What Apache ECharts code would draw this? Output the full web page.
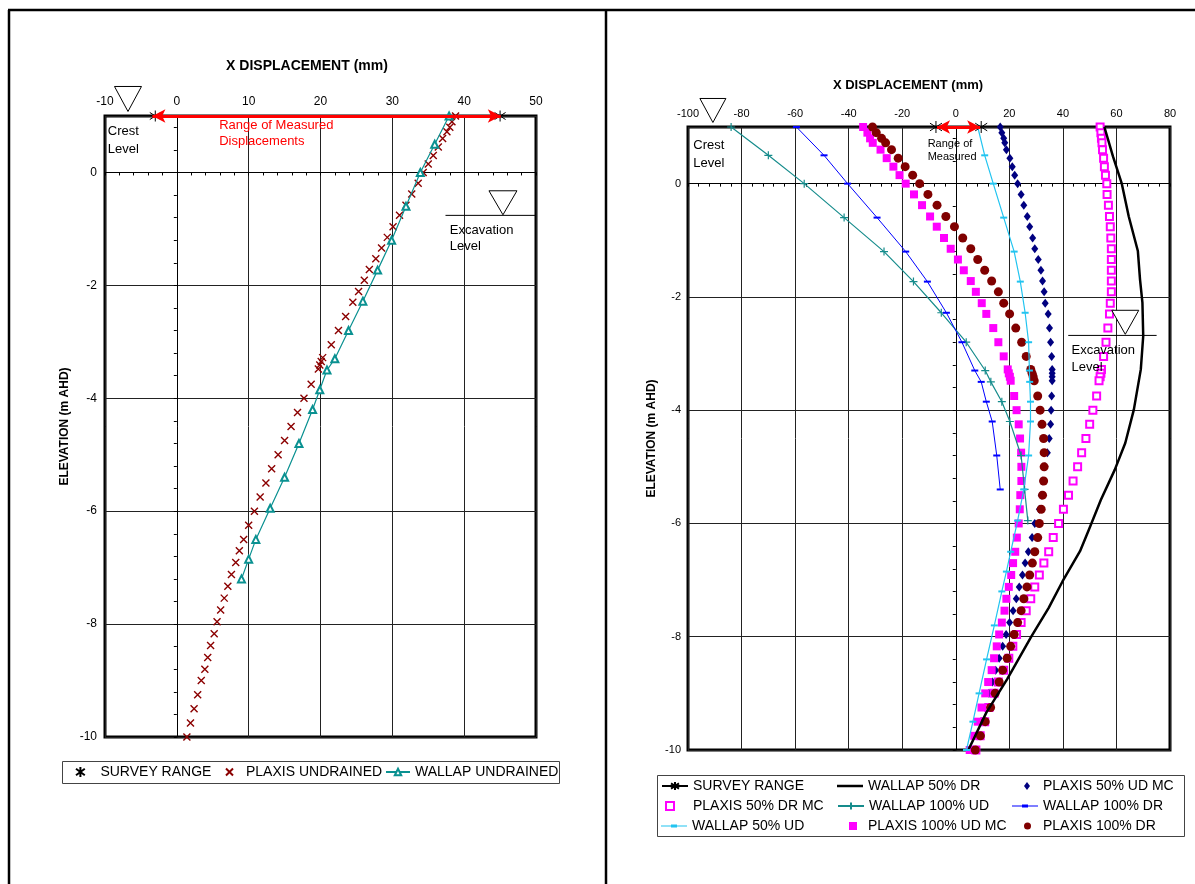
<!DOCTYPE html>
<html lang="en">
<head>
<meta charset="UTF-8">
<title>X displacement profiles</title>
<script src="https://cdn.jsdelivr.net/npm/echarts@6/dist/echarts.min.js"></script>
<style>html,body{margin:0;padding:0;background:#fff;}</style>
</head>
<body>
<div id="main" style="width:1195px;height:884px;"></div>
<script type="text/javascript">
    // elevations (m AHD) of the PLAXIS output nodes, shared by all PLAXIS series
    var plaxisElev = [1.0, 0.9, 0.8, 0.72, 0.6, 0.45, 0.3, 0.15, 0, -0.19, -0.38, -0.58, -0.76, -0.96,
        -1.15, -1.34, -1.53, -1.72, -1.91, -2.11, -2.3, -2.55, -2.8, -3.05, -3.28, -3.35, -3.41, -3.48,
        -3.75, -4.0, -4.25, -4.5, -4.75, -5.0, -5.25, -5.5, -5.75, -6.0, -6.25, -6.5, -6.7, -6.91,
        -7.12, -7.33, -7.54, -7.75, -7.96, -8.17, -8.38, -8.59, -8.8, -9.0, -9.25, -9.5, -9.75, -10.0];
    // elevations of the WALLAP nodes
    var wallapElev = [1.0, 0.5, 0, -0.6, -1.2, -1.73, -2.28, -2.8, -3.3, -3.5, -3.85, -4.2, -4.8,
        -5.4, -5.95, -6.5, -6.85, -7.2, -7.8, -8.4, -9.0, -9.5, -10.0];
    var surveyElev = 1.0;

    // left chart (undrained)
    var surveyLeft = [-3, 45];
    var plaxisUndrained = [38.8, 38.3, 38.0, 37.6, 37.0, 36.4, 35.7, 35.0, 34.3, 33.6,
        32.7, 31.9, 31.0, 30.1, 29.3, 28.5, 27.7, 26.8, 26.1, 25.3,
        24.5, 23.5, 22.5, 21.5, 20.3, 20.1, 19.9, 19.7, 18.7, 17.7,
        16.8, 15.9, 15.0, 14.1, 13.2, 12.4, 11.6, 10.8, 10.0, 9.3,
        8.7, 8.2, 7.6, 7.1, 6.6, 6.1, 5.6, 5.2, 4.7, 4.3,
        3.9, 3.4, 2.9, 2.4, 1.9, 1.4];
    var wallapUndrained = [37.9, 35.9, 33.9, 31.9, 29.9, 27.95, 25.9, 23.9, 22.0, 20.9, 19.9, 18.9,
        17.0, 15.0, 13.0, 11.0, 10.0, 9.0];

    // right chart
    var surveyRight = [-7.4, 9.5];
    var dr50Elev = [1.0, 0.48, 0.0, -0.58, -1.19, -1.69, -2.1, -2.69, -3.28, -3.99, -4.58, -5.05,
        -5.58, -6.11, -6.49, -7.02, -7.49, -7.99, -8.75, -9.34, -10.0];
    var wallap50DR = [55.5, 58.7, 62.0, 64.6, 68.0, 68.8, 69.7, 70.0, 69.1, 66.5, 63.3, 59.4,
        54.2, 49.7, 46.4, 39.9, 34.7, 28.3, 19.2, 11.4, 4.7];
    var plaxis50UDMC = [16.6, 17.2, 17.9, 18.3, 18.9, 20.2, 21.1, 22.0,
        23.1, 24.4, 25.4, 26.7, 27.6, 28.7, 29.5, 30.8, 31.8,
        32.4, 33.0, 33.4, 34.5, 35.0, 35.4, 35.8,
        36.0, 36.0, 36.0, 36.0,
        35.8, 35.6, 35.4, 34.9, 34.2, 33.3, 32.5, 31.9, 31.2, 29.5,
        28.5, 27.1, 25.9, 24.9, 23.7, 22.6, 21.4, 20.1, 18.8, 17.5, 16.2, 14.9, 13.7, 12.4, 11.0, 9.6, 8.2, 6.7];
    var plaxis50DRMC = [53.9, 54.2, 54.4, 54.6, 54.8, 55.2, 55.5, 55.9,
        56.4, 56.5, 57.0, 57.4, 57.7, 57.9, 58.1, 58.1, 58.1,
        58.1, 58.1, 57.7, 57.4, 56.8, 56.1, 55.2,
        54.4, 54.2, 53.9, 53.5,
        52.6, 51.2, 50.0, 48.6, 47.0, 45.5, 43.8, 42.1, 40.2, 38.4,
        36.4, 34.7, 32.9, 31.2, 29.5, 28.0, 26.3, 24.4, 22.7, 21.3, 19.8, 17.9, 15.9, 14.3, 12.4, 10.8, 9.1, 7.5];
    var wallap100UD = [-83.9, -70.0, -56.6, -41.7, -26.8, -15.8, -5.4, 3.9, 11.0, 13.1, 17.2, 20.2,
        24.4, 25.7, 26.9];
    var wallap100DR = [-59.5, -49.2, -40.4, -29.4, -18.7, -10.6, -3.5, 2.3, 7.1, 9.5, 11.4, 13.6,
        15.3, 16.6];
    var wallap50UD = [8.2, 10.8, 14.0, 17.9, 21.8, 24.1, 25.9, 27.2, 27.5, 27.6, 27.9, 27.9, 27.2,
        25.4, 23.1, 20.5, 18.9, 17.2, 14.4, 11.5, 8.7, 6.4, 4.0];
    var plaxis100UDMC = [-34.6, -33.0, -32.0, -31.0, -28.1, -25.8, -23.3, -21.0,
        -18.7, -15.6, -12.6, -9.6, -7.1, -4.4, -1.9, 0.8, 3.0,
        5.6, 7.5, 9.7, 11.4, 14.0, 15.9, 17.9,
        19.4, 19.8, 20.2, 20.5,
        21.8, 22.7, 23.5, 24.0, 24.4, 24.5, 24.5, 24.1, 23.9, 23.5,
        22.8, 22.2, 21.4, 20.7, 19.8, 18.9, 18.2, 17.2, 16.2, 15.3, 14.3, 13.4, 12.1, 11.0, 9.6, 8.2, 6.9, 5.2];
    var plaxis100DR = [-31.1, -29.7, -27.7, -26.2, -24.0, -21.5, -18.9, -16.1,
        -13.5, -10.4, -7.0, -3.7, -0.5, 2.6, 5.6, 8.2, 10.8,
        13.4, 15.9, 17.9, 20.1, 22.4, 24.6, 26.3,
        28.0, 28.5, 28.9, 29.3,
        30.6, 31.5, 32.2, 32.8, 33.0, 33.0, 32.8, 32.4, 31.9, 31.2,
        30.6, 29.5, 28.6, 27.6, 26.6, 25.4, 24.4, 23.1, 21.8, 20.5, 19.2, 17.5, 16.2, 14.7, 13.0, 11.0, 9.2, 7.3];

    // axis ranges
    var leftX = [-10, 50], rightX = [-100, 80], elevRange = [-10, 1];

    function pairs(xs, ys) {
        return xs.map(function (v, i) { return [v, ys[i]]; });
    }

    var FONT = 'Liberation Sans, Arial, sans-serif';
    var STAR = 'path://M5,0L5,10M0.6,1.8L9.4,8.2M9.4,1.8L0.6,8.2';
    var CROSS = 'path://M0,0L10,10M10,0L0,10';
    var PLUS = 'path://M5,0L5,10M0,5L10,5';
    var DASH_ICON = 'path://M0,1L26,1L26,2L0,2ZM10,0L16,0L16,3L10,3Z';

    function axisPair(grid, range, interval, minor, size, dim) {
        var main = {
            type: 'value', gridIndex: grid, min: range[0], max: range[1], interval: interval,
            axisLine: { show: false, onZero: false },
            axisTick: { show: false },
            axisLabel: { color: '#000', fontSize: size, fontFamily: FONT, margin: 8, showMaxLabel: dim === 'x' },
            splitLine: { show: true, lineStyle: { color: '#222', width: 1 } }
        };
        var cross = {
            type: 'value', gridIndex: grid, min: range[0], max: range[1], interval: minor,
            axisLine: { show: true, onZero: true, lineStyle: { color: '#000', width: 1 } },
            axisTick: { show: true, length: 3, inside: dim === 'y', lineStyle: { color: '#000' } },
            axisLabel: { show: false },
            splitLine: { show: false }
        };
        if (dim === 'x') main.position = 'top';
        return [main, cross];
    }

    var lx = axisPair(0, leftX, 10, 2, 12, 'x');
    var ly = axisPair(0, elevRange, 2, 0.4, 12, 'y');
    var rx = axisPair(1, rightX, 20, 4, 11, 'x');
    var ry = axisPair(1, elevRange, 2, 0.4, 11, 'y');
    ly[0].name = 'ELEVATION (m AHD)';
    ry[0].name = 'ELEVATION (m AHD)';
    ry[0].axisLabel.margin = 7;
    [ly[0], ry[0]].forEach(function (a, i) {
        a.nameLocation = 'middle';
        a.nameGap = i === 0 ? 34 : 30;
        a.nameTextStyle = { color: '#000', fontSize: 12, fontWeight: 'bold', fontFamily: FONT };
    });

    function arrow(from, to) {
        return {
            silent: true, symbol: ['arrow', 'arrow'], symbolSize: [10, 13],
            label: { show: false },
            lineStyle: { color: '#FF0000', width: 3, type: 'solid' },
            emphasis: { disabled: true },
            data: [[{ coord: [from, surveyElev] }, { coord: [to, surveyElev] }]]
        };
    }

    var surveyLeftPts = surveyLeft.map(function (v) { return [v, surveyElev]; });
    var surveyRightPts = surveyRight.map(function (v) { return [v, surveyElev]; });

    var series = [
        { name: 'SURVEY RANGE', type: 'scatter', xAxisIndex: 0, yAxisIndex: 0, clip: false,
          symbol: STAR, symbolSize: 11, z: 4,
          itemStyle: { color: '#000', borderColor: '#000', borderWidth: 1, opacity: 1 },
          data: surveyLeftPts, markLine: arrow(-3.4, 45.1) },
        { name: 'PLAXIS UNDRAINED', type: 'scatter', xAxisIndex: 0, yAxisIndex: 0,
          symbol: CROSS, symbolSize: 7,
          itemStyle: { color: '#8B0000', borderColor: '#8B0000', borderWidth: 1.4, opacity: 1 },
          data: pairs(plaxisUndrained, plaxisElev) },
        { name: 'WALLAP UNDRAINED', type: 'line', xAxisIndex: 0, yAxisIndex: 0,
          symbol: 'emptyTriangle', symbolSize: 7, showAllSymbol: true,
          lineStyle: { color: '#0A9191', width: 1.2 },
          itemStyle: { color: '#0A9191', borderWidth: 1.2 },
          data: pairs(wallapUndrained, wallapElev) },

        { name: 'SURVEY RANGE ', type: 'line', xAxisIndex: 2, yAxisIndex: 2, clip: false,
          symbol: STAR, symbolSize: 12, z: 4,
          lineStyle: { color: '#000', width: 1.5 },
          itemStyle: { color: '#000', borderColor: '#000', borderWidth: 1 },
          data: surveyRightPts, markLine: arrow(-7, 9.1) },
        { name: 'WALLAP 50% DR', type: 'line', xAxisIndex: 2, yAxisIndex: 2,
          symbol: 'none', lineStyle: { color: '#000', width: 2.5 },
          itemStyle: { color: '#000' },
          data: pairs(wallap50DR, dr50Elev) },
        { name: 'PLAXIS 50% UD MC', type: 'scatter', xAxisIndex: 2, yAxisIndex: 2,
          symbol: 'diamond', symbolSize: [7, 9],
          itemStyle: { color: '#000080', opacity: 1 },
          data: pairs(plaxis50UDMC, plaxisElev) },
        { name: 'PLAXIS 50% DR MC', type: 'scatter', xAxisIndex: 2, yAxisIndex: 2,
          symbol: 'emptyRect', symbolSize: 7,
          itemStyle: { color: '#FF00FF', borderWidth: 1.3, opacity: 1 },
          data: pairs(plaxis50DRMC, plaxisElev) },
        { name: 'WALLAP 100% UD', type: 'line', xAxisIndex: 2, yAxisIndex: 2,
          symbol: PLUS, symbolSize: 8, showAllSymbol: true,
          lineStyle: { color: '#168C8C', width: 1.2 },
          itemStyle: { color: '#168C8C', borderColor: '#168C8C', borderWidth: 1.2 },
          data: pairs(wallap100UD, wallapElev) },
        { name: 'WALLAP 100% DR', type: 'line', xAxisIndex: 2, yAxisIndex: 2,
          symbol: 'rect', symbolSize: [7, 2], showAllSymbol: true,
          lineStyle: { color: '#0000FF', width: 1 },
          itemStyle: { color: '#0000FF' },
          data: pairs(wallap100DR, wallapElev) },
        { name: 'WALLAP 50% UD', type: 'line', xAxisIndex: 2, yAxisIndex: 2,
          symbol: 'rect', symbolSize: [7, 2], showAllSymbol: true,
          lineStyle: { color: '#22C4F0', width: 1.2 },
          itemStyle: { color: '#22C4F0' },
          data: pairs(wallap50UD, wallapElev) },
        { name: 'PLAXIS 100% UD MC', type: 'scatter', xAxisIndex: 2, yAxisIndex: 2,
          symbol: 'rect', symbolSize: 8,
          itemStyle: { color: '#FF00FF', opacity: 1 },
          data: pairs(plaxis100UDMC, plaxisElev) },
        { name: 'PLAXIS 100% DR', type: 'scatter', xAxisIndex: 2, yAxisIndex: 2,
          symbol: 'circle', symbolSize: 9,
          itemStyle: { color: '#800000', opacity: 1 },
          data: pairs(plaxis100DR, plaxisElev) }
    ];

    // one legend component per entry so every icon and text sits where Excel put it
    function legendItem(name, iconLeft, iconW, iconH, textX, cy, icon) {
        var entry = icon ? { name: name, icon: icon } : name;
        return {
            data: [entry], left: iconLeft, top: cy - 8, itemWidth: iconW, itemHeight: iconH,
            padding: 0, selectedMode: false,
            textStyle: { color: '#000', fontSize: 14, fontFamily: FONT, lineHeight: 16,
                         padding: [0, 0, 0, Math.max(0, textX - (iconLeft + iconW + 5))] },
            formatter: function (n) { return n.trim(); }
        };
    }
    var legends = [
        legendItem('SURVEY RANGE', 75, 10, 10, 100, 772),
        legendItem('PLAXIS UNDRAINED', 225, 7, 7, 245, 772),
        legendItem('WALLAP UNDRAINED', 385, 24, 8, 414, 772),

        legendItem('SURVEY RANGE ', 661, 26, 10, 692, 786),
        legendItem('PLAXIS 50% DR MC', 665, 8, 8, 692, 806),
        legendItem('WALLAP 50% UD', 661, 26, 3, 692, 826, DASH_ICON),
        legendItem('WALLAP 50% DR', 837, 26, 2.5, 868, 786, 'rect'),
        legendItem('WALLAP 100% UD', 837, 26, 9, 868, 806),
        legendItem('PLAXIS 100% UD MC', 849, 8, 8, 868, 826),
        legendItem('PLAXIS 50% UD MC', 1024, 6, 8, 1043, 786),
        legendItem('WALLAP 100% DR', 1012, 26, 3, 1043, 806, DASH_ICON),
        legendItem('PLAXIS 100% DR', 1024, 7, 7, 1043, 826)
    ];

    var chartDom = document.getElementById('main');
    var myChart = echarts.init(chartDom);
    var option = {
        animation: false,
        backgroundColor: '#fff',
        grid: [
            { left: 105, top: 116, width: 431, height: 621, show: true, borderColor: '#000', borderWidth: 3, outerBoundsMode: 'none' },
            { left: 688, top: 127, width: 482, height: 623, show: true, borderColor: '#000', borderWidth: 3, outerBoundsMode: 'none' }
        ],
        xAxis: [lx[0], lx[1], rx[0], rx[1]],
        yAxis: [ly[0], ly[1], ry[0], ry[1]],
        legend: legends,
        series: series
    };
    option && myChart.setOption(option);

    // annotations, anchored in data units of each grid
    function px(grid, pt) { return myChart.convertToPixel({ gridIndex: grid }, pt); }
    function triangle(grid, apex, w, h) {
        var p = px(grid, apex);
        return { type: 'polygon', silent: true, z: 10,
                 shape: { points: [[p[0] - w / 2, p[1] - h], [p[0] + w / 2, p[1] - h], [p[0], p[1]]] },
                 style: { fill: '#fff', stroke: '#000', lineWidth: 1 } };
    }
    function note(grid, at, text, size, color, lh) {
        var p = px(grid, at);
        return { type: 'text', silent: true, z: 10,
                 style: { text: text, x: p[0], y: p[1], font: size + 'px ' + FONT, fill: color,
                          lineHeight: lh, textVerticalAlign: 'top' } };
    }
    function level(grid, from, to) {
        var a = px(grid, from), b = px(grid, to);
        return { type: 'line', silent: true, z: 10,
                 shape: { x1: a[0], y1: a[1], x2: b[0], y2: b[1] },
                 style: { stroke: '#000', lineWidth: 1 } };
    }
    function label(x, y, text, size) {
        return { type: 'text', silent: true,
                 style: { text: text, x: x, y: y, font: 'bold ' + size + 'px ' + FONT, fill: '#000',
                          textAlign: 'center', textVerticalAlign: 'middle' } };
    }
    function frame(x1, y1, x2, y2) {
        return { type: 'line', silent: true, shape: { x1: x1, y1: y1, x2: x2, y2: y2 },
                 style: { stroke: '#000', lineWidth: 2.5 } };
    }
    function box(x, y, w, h) {
        return { type: 'rect', silent: true, z: -1, shape: { x: x, y: y, width: w, height: h },
                 style: { fill: '#fff', stroke: '#444', lineWidth: 1 } };
    }

    myChart.setOption({
        graphic: [
            frame(8, 10, 1195, 10), frame(9, 10, 9, 884), frame(606, 10, 606, 884),
            box(62.5, 761.5, 497, 22), box(657.5, 775.5, 527, 61),
            label(307, 66, 'X DISPLACEMENT (mm)', 14),
            label(908, 85, 'X DISPLACEMENT (mm)', 13),
            triangle(0, [-6.8, 1.08], 27, 25),
            note(0, [-9.6, 0.89], 'Crest\nLevel', 13, '#000', 18),
            note(0, [5.9, 0.98], 'Range of Measured\nDisplacements', 13, '#FF0000', 16),
            triangle(0, [45.4, -0.75], 28, 24),
            level(0, [37.4, -0.76], [50, -0.76]),
            note(0, [38, -0.88], 'Excavation\nLevel', 13, '#000', 16),
            triangle(1, [-90.7, 1.08], 26, 24),
            note(1, [-98, 0.84], 'Crest\nLevel', 13, '#000', 18),
            note(1, [-10.5, 0.81], 'Range of\nMeasured', 11, '#000', 13),
            triangle(1, [63.3, -2.66], 27, 24),
            level(1, [42, -2.68], [75, -2.68]),
            note(1, [43.2, -2.8], 'Excavation\nLevel', 13, '#000', 17)
        ]
    });

    window.addEventListener("resize", function () {
        myChart.resize();
    });
</script>
</body>
</html>
